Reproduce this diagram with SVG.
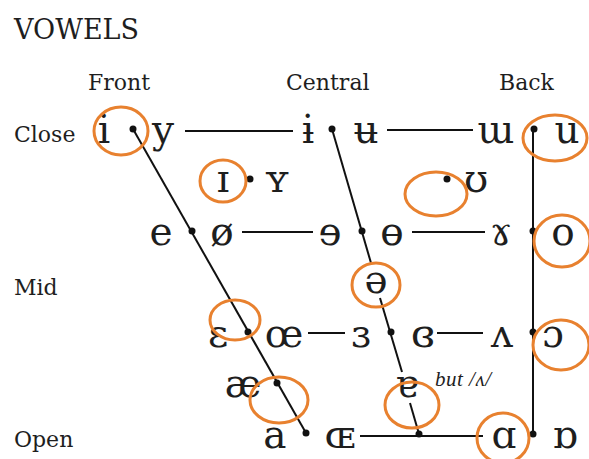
<svg xmlns="http://www.w3.org/2000/svg" width="589" height="459" viewBox="0 0 589 459">
<style>
.lbl{font-family:"DejaVu Serif","Liberation Serif",serif;font-size:22px;fill:#1e1e1e}
.ttl{font-family:"DejaVu Serif","Liberation Serif",serif;font-size:27px;fill:#1e1e1e}
.v{font-family:"DejaVu Serif","Liberation Serif",serif;font-size:39px;fill:#1e1e1e;text-anchor:middle}
.note{font-family:"Liberation Serif",serif;font-style:italic;font-size:21px;letter-spacing:0.5px;fill:#1e1e1e}
.ring{fill:none;stroke:#E8812F;stroke-width:3}
.ln{stroke:#111;stroke-width:2;fill:none}
.dot{fill:#111}
</style>
<rect width="589" height="459" fill="#fff"/>
<g id="labels">
<text class="ttl" x="14" y="39">VOWELS</text>
<text class="lbl" x="88" y="90">Front</text>
<text class="lbl" x="286" y="90">Central</text>
<text class="lbl" x="499" y="90">Back</text>
<text class="lbl" x="14" y="142">Close</text>
<text class="lbl" x="14" y="295">Mid</text>
<text class="lbl" x="14" y="447">Open</text>
<text class="note" x="435" y="386">but /ʌ/</text>
</g>
<g id="connectors">
<line class="ln" x1="185" y1="131" x2="293" y2="131"/>
<line class="ln" x1="387" y1="130" x2="473" y2="130"/>
<line class="ln" x1="242" y1="232" x2="313" y2="232"/>
<line class="ln" x1="412" y1="232" x2="485" y2="232"/>
<line class="ln" x1="308" y1="333" x2="345" y2="333"/>
<line class="ln" x1="437" y1="333" x2="483" y2="333"/>
<line class="ln" x1="360" y1="436" x2="483" y2="436"/>
<line class="ln" x1="133" y1="129" x2="306" y2="433"/>
<line class="ln" x1="332" y1="129" x2="371" y2="263"/>
<line class="ln" x1="380" y1="298" x2="402" y2="372"/>
<line class="ln" x1="410" y1="403" x2="419" y2="434"/>
<line class="ln" x1="533" y1="129" x2="533" y2="434"/>
</g>
<g id="dots">
<circle class="dot" cx="133" cy="129" r="3.5"/>
<circle class="dot" cx="332" cy="129" r="3.5"/>
<circle class="dot" cx="534" cy="129" r="3.5"/>
<circle class="dot" cx="250" cy="179" r="3.5"/>
<circle class="dot" cx="447" cy="179" r="3.5"/>
<circle class="dot" cx="192" cy="231" r="3.5"/>
<circle class="dot" cx="362" cy="231" r="3.5"/>
<circle class="dot" cx="533" cy="231" r="3.5"/>
<circle class="dot" cx="248" cy="332" r="3.5"/>
<circle class="dot" cx="391" cy="332" r="3.5"/>
<circle class="dot" cx="533" cy="332" r="3.5"/>
<circle class="dot" cx="277" cy="383" r="3.5"/>
<circle class="dot" cx="306" cy="433" r="3.5"/>
<circle class="dot" cx="419" cy="434" r="3.5"/>
<circle class="dot" cx="533" cy="434" r="3.5"/>
</g>
<g id="v-i"><text class="v" x="104" y="143">i</text><ellipse class="ring" cx="121" cy="131" rx="27" ry="24"/></g>
<g id="v-y"><text class="v" x="163" y="143">y</text></g>
<g id="v-barred-i"><text class="v" x="308" y="143">ɨ</text></g>
<g id="v-barred-u"><text class="v" x="366" y="143">ʉ</text></g>
<g id="v-turned-m"><text class="v" x="496" y="143">ɯ</text></g>
<g id="v-u"><text class="v" x="567" y="143">u</text><ellipse class="ring" cx="555" cy="138" rx="32" ry="23"/></g>
<g id="v-small-i"><text class="v" x="223" y="192">ɪ</text><ellipse class="ring" cx="223" cy="181" rx="23" ry="21"/></g>
<g id="v-small-y"><text class="v" x="277" y="192">ʏ</text></g>
<g id="v-upsilon"><text class="v" x="476" y="192">ʊ</text><ellipse class="ring" cx="436" cy="194" rx="31" ry="22"/></g>
<g id="v-e"><text class="v" x="161" y="245">e</text></g>
<g id="v-oslash"><text class="v" x="222" y="245">ø</text></g>
<g id="v-rev-e"><text class="v" x="330" y="245">ɘ</text></g>
<g id="v-barred-o"><text class="v" x="392" y="245">ɵ</text></g>
<g id="v-ram-horn"><text class="v" x="501" y="245">ɤ</text></g>
<g id="v-o"><text class="v" x="563" y="245">o</text><ellipse class="ring" cx="562" cy="241" rx="28" ry="26"/></g>
<g id="v-schwa"><text class="v" x="376" y="293">ə</text><ellipse class="ring" cx="376" cy="285" rx="24" ry="22"/></g>
<g id="v-epsilon"><text class="v" x="218" y="347">ɛ</text><ellipse class="ring" cx="235" cy="320" rx="25" ry="20"/></g>
<g id="v-oe"><text class="v" x="284" y="347">œ</text></g>
<g id="v-rev-epsilon"><text class="v" x="361" y="347">ɜ</text></g>
<g id="v-closed-rev-epsilon"><text class="v" x="423" y="347">ɞ</text></g>
<g id="v-turned-v"><text class="v" x="502" y="347">ʌ</text></g>
<g id="v-open-o"><text class="v" x="553" y="347">ɔ</text><ellipse class="ring" cx="561" cy="345" rx="28" ry="25"/></g>
<g id="v-ae"><text class="v" x="243" y="397">æ</text><ellipse class="ring" cx="279" cy="400" rx="29" ry="23"/></g>
<g id="v-turned-a"><text class="v" x="407" y="397">ɐ</text><ellipse class="ring" cx="412" cy="405" rx="27" ry="23"/></g>
<g id="v-a"><text class="v" x="275" y="448">a</text></g>
<g id="v-small-oe"><text class="v" x="340" y="448">ɶ</text></g>
<g id="v-script-a"><text class="v" x="504" y="448">ɑ</text><ellipse class="ring" cx="503" cy="438" rx="26" ry="25"/></g>
<g id="v-turned-script-a"><text class="v" x="565" y="448">ɒ</text></g>
</svg>
